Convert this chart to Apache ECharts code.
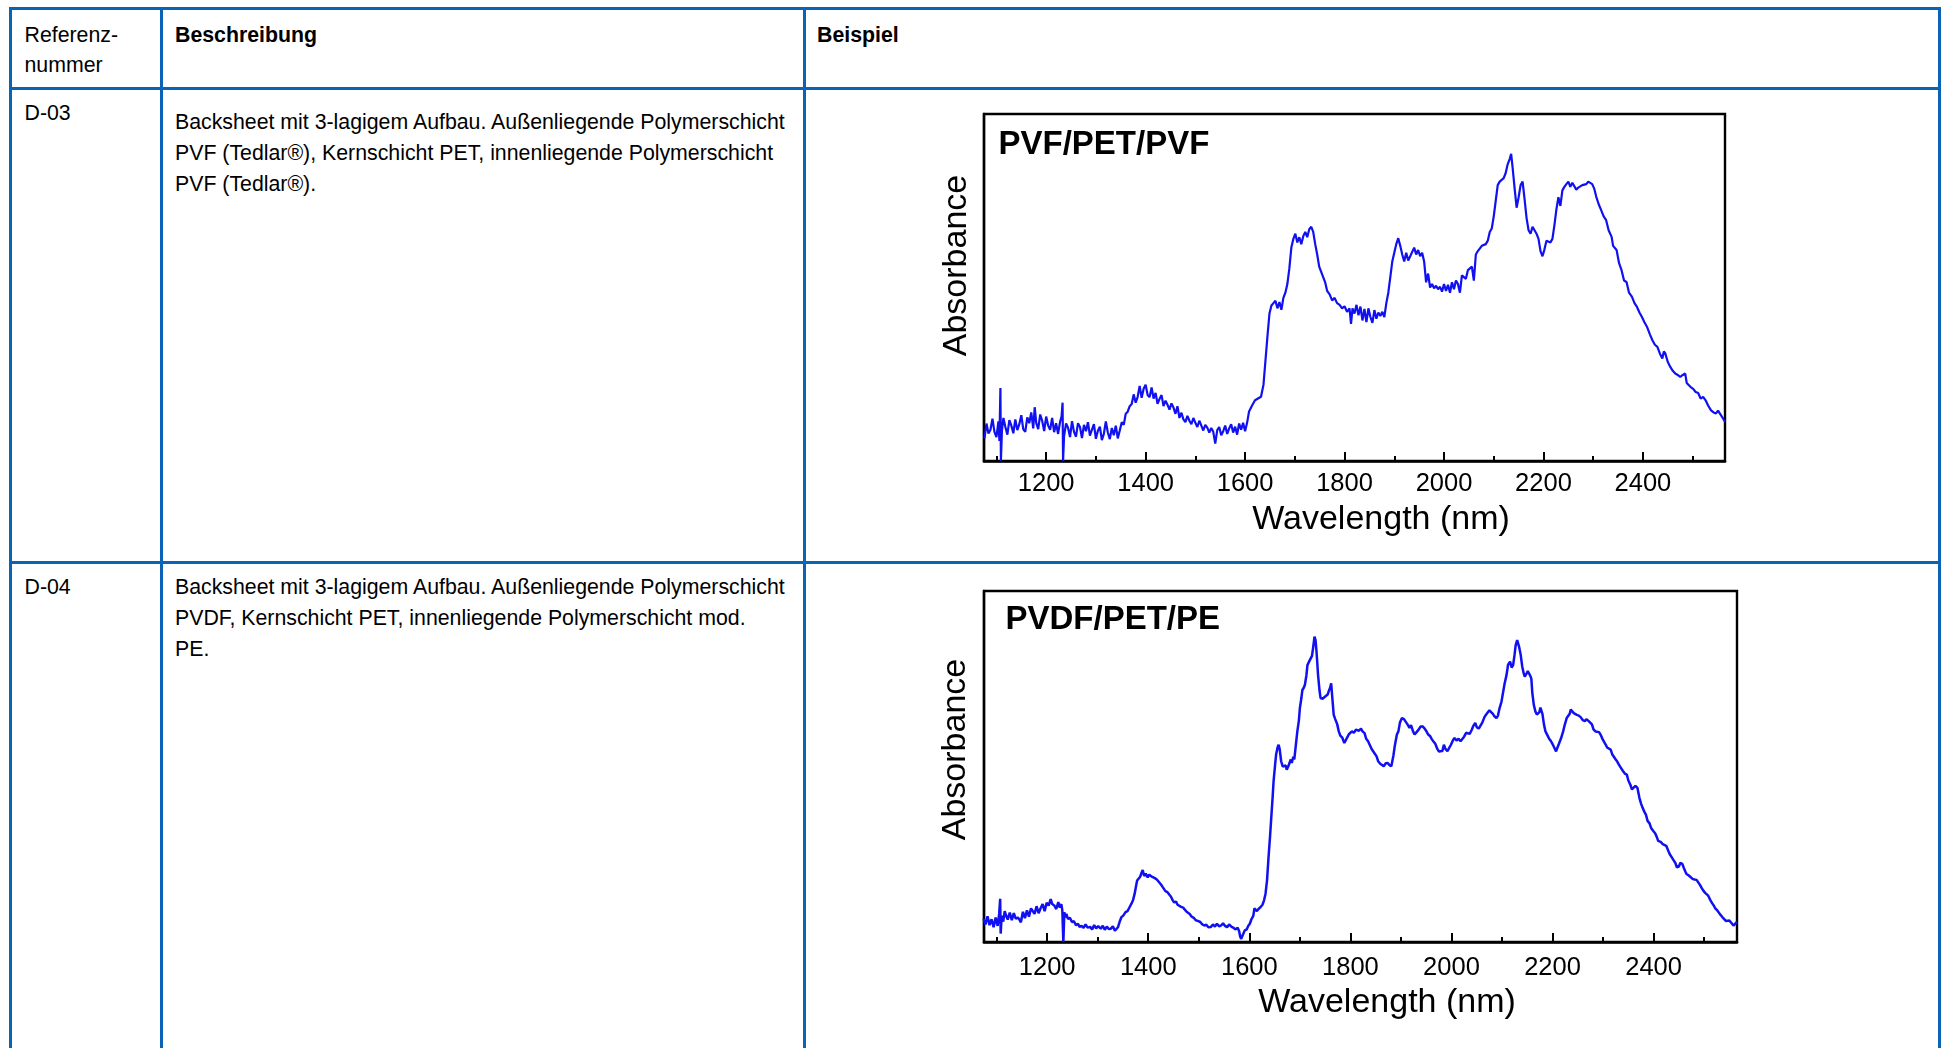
<!DOCTYPE html>
<html>
<head>
<meta charset="utf-8">
<script src="https://cdn.jsdelivr.net/npm/echarts@6/dist/echarts.min.js"></script>
<style>
html,body{margin:0;padding:0;background:#fff;width:1945px;height:1048px;overflow:hidden;font-family:'Liberation Sans',Arial,sans-serif;color:#000;}
.ln{position:absolute;background:#0b63b5;}
.t{position:absolute;font-size:21.3px;white-space:nowrap;}
.b{font-weight:bold;}
.chart{position:absolute;}
</style>
</head>
<body>
<!-- table grid lines -->
<div class="ln" style="left:8.5px;top:6.5px;width:1932px;height:3px"></div>
<div class="ln" style="left:8.5px;top:86.5px;width:1932px;height:3px"></div>
<div class="ln" style="left:8.5px;top:560.5px;width:1932px;height:3px"></div>
<div class="ln" style="left:8.5px;top:6.5px;width:3px;height:1050px"></div>
<div class="ln" style="left:159.5px;top:6.5px;width:3px;height:1050px"></div>
<div class="ln" style="left:802.5px;top:6.5px;width:3px;height:1050px"></div>
<div class="ln" style="left:1937.5px;top:6.5px;width:3px;height:1050px"></div>

<!-- header -->
<div class="t" style="left:24.5px;top:20px;line-height:30px">Referenz-<br>nummer</div>
<div class="t b" style="left:175px;top:20px;line-height:30px">Beschreibung</div>
<div class="t b" style="left:817px;top:20px;line-height:30px">Beispiel</div>

<!-- row 1 -->
<div class="t" style="left:24.5px;top:98px;line-height:31px">D-03</div>
<div class="t" style="left:175px;top:106.8px;line-height:31px">Backsheet mit 3-lagigem Aufbau. Außenliegende Polymerschicht<br>PVF (Tedlar®), Kernschicht PET, innenliegende Polymerschicht<br>PVF (Tedlar®).</div>

<!-- row 2 -->
<div class="t" style="left:24.5px;top:572px;line-height:31px">D-04</div>
<div class="t" style="left:175px;top:572px;line-height:31px">Backsheet mit 3-lagigem Aufbau. Außenliegende Polymerschicht<br>PVDF, Kernschicht PET, innenliegende Polymerschicht mod.<br>PE.</div>

<div id="c1" class="chart" style="left:900px;top:100px;width:900px;height:450px"></div>
<div id="c2" class="chart" style="left:900px;top:577px;width:900px;height:471px"></div>

<script>
// ---- data ----
const xLabels = [1200, 1400, 1600, 1800, 2000, 2200, 2400];
const majorTicks = [1200, 1400, 1600, 1800, 2000, 2200, 2400];
const minorTicks = [1100, 1300, 1500, 1700, 1900, 2100, 2300, 2500];
const titles = ['PVF/PET/PVF', 'PVDF/PET/PE'];
const xName = 'Wavelength (nm)';
const yName = 'Absorbance';

const wavelength1 = [
1076,1080,1084,1088,1092,1096,1100,1104,1106,1108,
1109,1111,1114,1118,1122,1126,1130,1134,1138,1142,
1146,1150,1154,1158,1162,1166,1170,1174,1177,1180,
1184,1188,1192,1196,1200,1204,1208,1212,1216,1220,
1224,1228,1231,1233,1234,1236,1240,1244,1248,1252,
1256,1260,1264,1268,1272,1276,1280,1284,1288,1292,
1296,1300,1304,1308,1312,1316,1320,1324,1328,1332,
1336,1340,1344,1348,1352,1356,1360,1364,1368,1372,
1376,1380,1384,1388,1392,1396,1400,1404,1408,1412,
1416,1420,1424,1428,1432,1436,1440,1444,1448,1452,
1456,1460,1464,1468,1472,1476,1480,1484,1488,1492,
1496,1500,1504,1508,1512,1516,1520,1524,1528,1532,
1536,1540,1544,1548,1552,1556,1560,1564,1568,1572,
1576,1580,1584,1588,1592,1596,1600,1604,1608,1614,
1620,1626,1632,1637,1641,1645,1649,1653,1657,1661,
1665,1669,1673,1677,1681,1685,1689,1693,1697,1701,
1705,1709,1713,1717,1721,1725,1729,1733,1737,1741,
1745,1749,1753,1757,1761,1765,1770,1775,1780,1785,
1790,1795,1800,1805,1810,1813,1816,1820,1824,1828,
1832,1836,1840,1844,1848,1852,1856,1860,1864,1868,
1872,1876,1880,1884,1888,1892,1896,1900,1904,1908,
1912,1916,1920,1924,1928,1932,1936,1940,1944,1948,
1952,1956,1960,1964,1968,1972,1976,1980,1984,1988,
1992,1996,2000,2004,2008,2012,2016,2020,2024,2028,
2032,2036,2040,2044,2048,2052,2056,2060,2064,2068,
2072,2076,2080,2084,2088,2092,2096,2100,2104,2108,
2112,2116,2120,2124,2128,2132,2135,2138,2142,2146,
2150,2154,2158,2162,2166,2170,2174,2178,2182,2186,
2190,2194,2198,2202,2206,2210,2214,2218,2222,2226,
2230,2234,2238,2242,2246,2250,2254,2258,2262,2266,
2270,2274,2278,2282,2286,2290,2294,2298,2302,2306,
2311,2316,2321,2326,2331,2337,2340,2344,2347,2352,
2357,2362,2367,2372,2378,2383,2388,2393,2398,2403,
2408,2414,2419,2424,2429,2434,2439,2442,2445,2450,
2455,2460,2465,2470,2475,2480,2485,2488,2492,2496,
2501,2506,2511,2516,2521,2526,2531,2537,2542,2547,
2551,2555,2560,2565
];
const absorbance1 = [
6.5,10.8,7.9,9.0,12.2,8.4,6.9,11.4,5.8,21.0,
0.0,8.6,12.4,9.8,7.6,11.8,10.2,8.0,12.0,8.9,
10.6,13.2,9.1,8.4,12.6,10.9,14.0,9.4,15.5,11.0,
9.2,13.4,11.6,8.6,12.8,10.2,9.0,12.4,8.3,10.9,
7.8,11.3,12.9,16.8,0.0,7.2,10.8,9.6,6.9,11.5,
8.4,7.0,10.9,9.8,6.6,10.4,8.6,11.2,7.3,9.0,
10.6,6.4,8.7,9.9,6.0,7.8,11.4,8.2,6.3,9.5,
7.4,10.2,6.5,8.8,11.2,10.4,13.6,14.2,15.8,16.4,
19.2,16.8,18.5,21.6,18.2,20.8,22.0,19.0,18.4,21.2,
18.0,19.6,16.5,17.9,19.0,15.8,17.4,16.2,14.8,16.6,
15.4,13.6,15.8,12.4,13.9,12.0,11.2,13.0,11.6,10.6,
12.4,11.0,9.8,11.6,10.2,8.8,10.4,9.6,8.2,9.5,
8.4,5.0,8.9,9.8,7.4,8.6,10.2,7.8,9.4,10.6,
8.2,9.9,7.6,10.8,9.0,11.0,8.6,11.0,14.3,16.0,
17.5,18.0,18.5,22.0,29.0,36.0,42.5,44.8,45.5,46.2,
44.0,45.8,43.6,47.0,48.5,51.0,55.5,61.5,64.0,65.5,
63.0,64.5,62.5,64.8,66.0,64.5,66.8,67.5,66.0,62.5,
59.5,56.0,54.5,53.0,51.5,49.0,48.0,46.3,47.0,45.5,
45.0,44.0,44.6,43.0,44.0,39.5,44.0,42.5,45.0,42.0,
44.5,40.5,43.8,40.0,44.0,41.5,39.8,43.5,41.0,42.8,
41.8,43.0,41.5,45.5,48.5,53.0,57.5,60.0,62.5,64.2,
62.0,59.5,57.5,60.0,57.8,59.0,58.5,61.5,59.5,60.8,
59.0,60.0,57.5,51.5,54.0,50.0,51.0,49.8,50.5,49.5,
50.2,48.8,51.0,49.0,50.8,48.5,51.5,49.5,52.0,51.0,
48.5,53.5,54.0,52.5,55.0,54.5,56.0,52.0,59.5,60.5,
60.0,62.0,62.3,62.5,63.5,66.0,67.0,70.5,75.0,79.5,
80.5,80.0,81.5,83.0,85.5,87.0,88.5,84.5,78.5,73.0,
76.0,79.5,80.5,75.5,70.0,66.5,65.5,67.5,68.0,65.5,
64.0,60.5,59.0,61.0,63.5,63.8,63.0,64.0,68.0,72.5,
76.0,73.5,78.0,79.0,79.8,80.5,79.0,80.2,80.0,78.2,
78.8,78.5,79.5,79.2,79.8,80.5,81.0,79.8,78.5,76.2,
74.0,72.3,70.5,69.4,66.5,64.6,62.0,61.5,60.8,57.0,
55.0,52.0,51.6,48.5,47.3,45.5,44.4,42.8,41.5,40.0,
38.7,36.5,34.8,33.5,32.9,31.0,29.5,31.6,31.0,28.5,
27.1,26.0,25.2,24.8,24.2,24.8,25.2,22.5,22.8,21.3,
20.8,19.9,19.6,18.0,18.5,17.5,16.0,14.6,14.0,13.7,
14.5,14.1,12.5,11.3
];

const wavelength2 = [
1074,1078,1082,1086,1090,1094,1098,1102,1105,1107,
1108,1110,1113,1116,1119,1122,1126,1130,1134,1138,
1142,1145,1148,1152,1156,1160,1164,1168,1171,1175,
1179,1183,1187,1191,1195,1199,1203,1207,1210,1214,
1218,1222,1225,1228,1230,1232,1234,1236,1238,1241,
1245,1249,1253,1257,1261,1264,1268,1272,1276,1280,
1285,1289,1293,1297,1301,1306,1310,1314,1318,1322,
1326,1330,1334,1337,1340,1344,1347,1351,1355,1359,
1363,1367,1370,1373,1376,1378,1381,1384,1387,1389,
1392,1395,1399,1402,1406,1409,1413,1417,1420,1424,
1427,1430,1434,1438,1441,1445,1448,1451,1455,1458,
1461,1465,1469,1472,1476,1479,1482,1486,1490,1494,
1498,1503,1507,1511,1515,1519,1524,1528,1532,1536,
1540,1544,1548,1552,1556,1560,1565,1569,1573,1577,
1580,1582,1584,1587,1591,1595,1598,1601,1604,1608,
1610,1612,1615,1618,1622,1626,1629,1632,1635,1638,
1641,1643,1646,1648,1651,1653,1656,1658,1660,1663,
1666,1669,1672,1674,1677,1679,1682,1684,1687,1689,
1692,1695,1698,1700,1703,1705,1708,1710,1713,1715,
1718,1721,1724,1726,1729,1731,1733,1736,1739,1741,
1745,1749,1752,1755,1757,1760,1762,1764,1767,1770,
1774,1777,1780,1784,1788,1791,1793,1797,1800,1803,
1807,1811,1814,1817,1821,1824,1828,1831,1835,1838,
1842,1845,1849,1852,1855,1859,1862,1866,1870,1874,
1877,1881,1885,1888,1892,1895,1898,1902,1906,1909,
1913,1917,1920,1924,1927,1931,1935,1939,1943,1947,
1951,1954,1958,1961,1964,1968,1972,1975,1978,1982,
1985,1988,1992,1995,1999,2003,2006,2010,2014,2018,
2021,2025,2029,2032,2036,2040,2043,2047,2050,2054,
2057,2061,2065,2068,2071,2075,2078,2082,2085,2089,
2092,2095,2099,2102,2105,2109,2112,2116,2119,2122,
2125,2127,2130,2132,2134,2137,2140,2143,2145,2148,
2151,2153,2156,2158,2160,2163,2166,2169,2171,2174,
2176,2178,2180,2183,2186,2189,2193,2197,2200,2204,
2207,2210,2214,2217,2221,2224,2228,2231,2234,2236,
2239,2242,2245,2248,2252,2256,2260,2264,2267,2271,
2274,2278,2281,2285,2288,2292,2295,2299,2302,2306,
2308,2311,2315,2318,2321,2325,2328,2331,2335,2339,
2343,2347,2350,2354,2357,2360,2364,2368,2372,2375,
2378,2382,2385,2388,2392,2395,2399,2403,2406,2409,
2414,2418,2421,2425,2429,2432,2436,2440,2443,2446,
2450,2453,2457,2460,2463,2465,2469,2473,2477,2481,
2485,2488,2492,2495,2498,2502,2505,2508,2512,2516,
2519,2522,2526,2529,2532,2536,2539,2543,2546,2550,
2554,2558,2561,2565
];
const absorbance2 = [
6.6,5.0,7.3,4.8,6.5,4.2,7.0,4.6,8.0,12.3,
2.4,7.5,5.8,8.8,7.4,6.4,8.4,6.2,8.2,6.6,
7.0,6.4,5.6,8.6,6.8,9.0,7.2,9.6,9.5,8.0,
10.2,8.2,9.6,10.8,8.8,11.2,10.4,12.2,10.8,10.4,
9.4,11.4,9.8,10.8,9.0,0.0,8.5,7.0,8.0,6.6,
6.9,5.7,5.9,4.8,5.2,4.3,4.6,4.0,5.0,4.1,
4.3,3.6,4.8,3.9,4.5,3.8,4.6,3.5,4.4,3.7,
3.8,4.5,3.2,2.8,4.2,6.0,7.1,7.6,8.5,8.8,
9.9,11.0,12.0,13.7,16.0,17.5,17.9,18.6,19.8,20.5,
18.8,19.5,18.4,19.2,18.7,18.9,18.2,17.8,17.5,16.6,
16.0,15.6,14.5,14.2,13.7,12.9,12.0,11.3,11.5,10.6,
10.4,10.0,9.8,9.5,8.6,8.4,8.0,7.2,6.9,6.2,
6.0,5.7,5.0,4.7,4.9,4.2,4.3,5.0,4.4,5.2,
4.5,4.7,5.3,4.6,4.2,5.0,4.3,4.0,3.6,4.1,
3.0,1.5,0.9,2.0,3.3,3.6,4.6,5.2,6.4,7.5,
9.6,9.9,8.8,9.4,9.9,10.6,11.8,13.7,17.5,24.1,
30.0,34.5,41.0,45.8,50.5,53.4,55.5,56.2,55.0,51.5,
50.0,49.6,50.3,49.1,50.0,50.1,52.0,51.0,52.8,52.0,
56.0,60.0,63.0,66.6,69.5,71.8,72.5,73.3,76.0,78.9,
79.8,79.4,81.5,83.6,87.0,86.0,82.7,76.1,71.5,69.5,
69.3,69.8,70.0,70.5,71.4,72.5,73.7,70.0,64.7,63.5,
62.0,60.0,58.8,58.2,56.7,57.5,58.1,59.2,59.0,60.0,
59.6,60.5,61.0,60.2,60.8,60.0,59.5,58.0,57.2,56.8,
55.0,55.3,53.5,52.8,51.5,50.8,50.5,50.1,50.9,51.0,
50.4,50.1,53.0,56.0,59.1,60.0,62.5,63.8,63.5,63.8,
62.0,61.0,61.8,60.0,59.1,59.8,60.5,61.4,61.4,60.8,
59.9,59.1,58.6,57.8,57.2,56.5,55.0,54.3,54.6,54.4,
56.2,55.0,54.4,54.8,56.2,57.5,58.1,57.4,57.9,57.2,
57.7,58.5,59.6,60.0,59.3,60.4,61.5,62.4,61.2,60.8,
61.0,62.5,64.0,64.7,65.2,66.0,66.2,65.0,64.3,63.8,
64.5,66.5,68.5,71.0,73.5,76.1,79.0,79.9,78.2,78.9,
82.0,84.5,86.0,86.0,84.0,81.8,78.5,76.5,75.6,76.3,
77.2,77.0,75.8,75.1,71.0,67.5,65.7,64.8,64.3,65.5,
66.8,67.1,65.0,62.0,60.0,59.6,58.0,57.2,56.4,55.2,
54.3,55.5,57.0,58.1,60.0,61.8,63.8,64.0,65.0,66.2,
65.8,65.2,65.0,64.7,64.5,64.0,63.2,62.9,63.5,63.0,
62.9,62.0,60.6,60.0,60.5,59.8,59.1,57.8,57.0,56.0,
55.4,55.8,54.8,53.5,53.4,52.0,51.4,50.6,49.7,48.8,
48.0,47.7,46.0,44.8,43.5,43.2,44.5,43.9,41.0,39.5,
38.3,37.0,36.2,34.5,33.8,32.5,31.7,31.0,30.0,28.8,
28.5,27.9,27.8,27.4,26.0,25.0,24.1,23.2,22.5,21.3,
21.5,22.6,22.2,21.0,20.0,19.4,19.0,18.5,18.0,17.8,
17.7,17.5,16.2,15.4,14.7,14.0,13.6,13.2,12.0,11.0,
10.4,9.6,9.0,8.5,7.8,7.1,6.6,6.0,5.9,6.1,
5.4,4.7,5.2,5.7
];

// ---- chart builder ----
const FONT = "'Liberation Sans', Arial, sans-serif";
const LINE_BLUE = '#1010f0';

function pairs(xs, ys) {
  const n = Math.min(xs.length, ys.length);
  const out = [];
  for (let i = 0; i < n; i++) out.push([xs[i], ys[i]]);
  return out;
}

function buildOption(title, data, L) {
  return {
    animation: false,
    textStyle: { fontFamily: FONT, color: '#000' },
    title: {
      text: title, left: L.titleLeft, top: L.titleTop, padding: 0,
      textStyle: { fontFamily: FONT, fontSize: 33, fontWeight: 'bold', color: '#000' }
    },
    grid: {
      left: L.gridLeft, top: L.gridTop, width: L.gridWidth, height: L.gridHeight,
      show: true, borderColor: '#000', borderWidth: 2.4, backgroundColor: 'transparent',
      containLabel: false, outerBoundsMode: 'none'
    },
    xAxis: [{
      type: 'value', min: 1075, max: 2565, position: 'bottom',
      axisLine: { show: true, onZero: false, lineStyle: { color: '#000', width: 2.6 } },
      axisTick: { show: true, inside: true, length: 9, customValues: majorTicks, lineStyle: { color: '#000', width: 2 } },
      axisLabel: { show: true, customValues: xLabels, formatter: function (v) { return String(v); },
                   margin: L.labelMargin, fontSize: 25.5, color: '#000', fontFamily: FONT },
      splitLine: { show: false },
      name: xName, nameLocation: 'middle', nameGap: L.xNameGap,
      nameTextStyle: { fontSize: 34, color: '#000', fontFamily: FONT, padding: [0, 0, 0, 53] }
    }, {
      type: 'value', min: 1075, max: 2565, position: 'bottom',
      axisLine: { show: false },
      axisTick: { show: true, inside: true, length: 5, customValues: minorTicks, lineStyle: { color: '#000', width: 2 } },
      axisLabel: { show: false },
      splitLine: { show: false }
    }],
    yAxis: {
      type: 'value', min: 0, max: 100,
      axisLine: { show: true, onZero: false, lineStyle: { color: '#000', width: 2.4 } },
      axisTick: { show: false },
      axisLabel: { show: false },
      splitLine: { show: false },
      name: yName, nameLocation: 'middle', nameRotate: 90, nameGap: L.yNameGap,
      nameTextStyle: { fontSize: 34, color: '#000', fontFamily: FONT, padding: [0, 0, 0, L.yNamePad] }
    },
    series: [{
      type: 'line', data: data, xAxisIndex: 0, yAxisIndex: 0,
      showSymbol: false, symbol: 'none', smooth: false, clip: true,
      lineStyle: { color: LINE_BLUE, width: L.lineWidth },
      emphasis: { disabled: true }
    }]
  };
}

const c1 = echarts.init(document.getElementById('c1'), null, { renderer: 'canvas' });
c1.setOption(buildOption(titles[0], pairs(wavelength1, absorbance1), {
  gridLeft: 84, gridTop: 14, gridWidth: 741, gridHeight: 347, lineWidth: 2.2,
  titleLeft: 98.5, titleTop: 28.6, labelMargin: 10, xNameGap: 42, yNameGap: 10, yNamePad: 44
}));

const c2 = echarts.init(document.getElementById('c2'), null, { renderer: 'canvas' });
c2.setOption(buildOption(titles[1], pairs(wavelength2, absorbance2), {
  gridLeft: 84, gridTop: 14, gridWidth: 753, gridHeight: 351, lineWidth: 2.5,
  titleLeft: 105.5, titleTop: 26, labelMargin: 13, xNameGap: 44, yNameGap: 11, yNamePad: 34
}));
</script>
</body>
</html>
